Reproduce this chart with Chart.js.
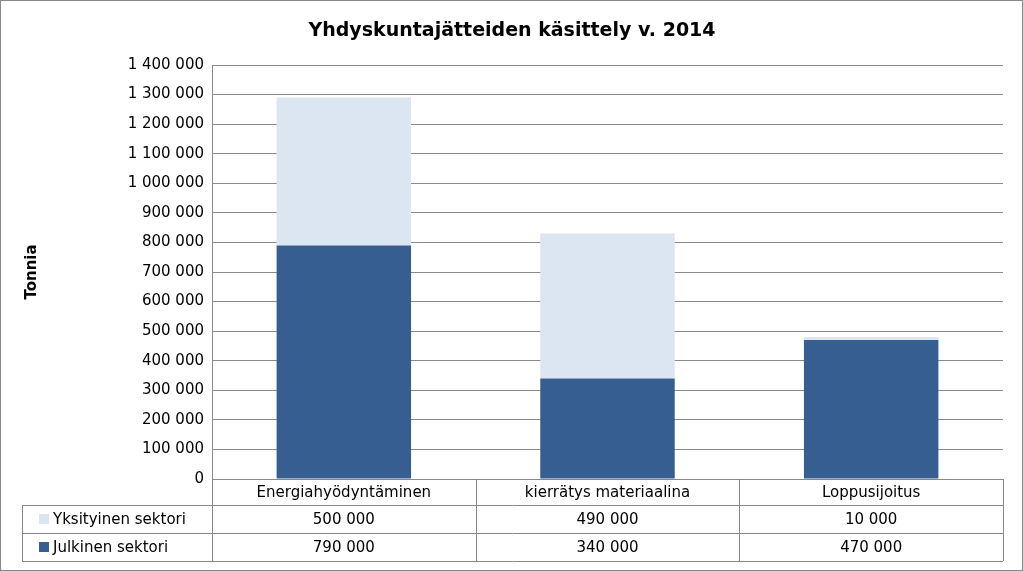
<!DOCTYPE html>
<html><head><meta charset="utf-8">
<script src="https://cdn.jsdelivr.net/npm/chart.js@4/dist/chart.umd.min.js"></script>
<style>body{margin:0;background:#fff}#w{width:1023px;height:571px;position:relative;box-sizing:border-box;border:1px solid #888}</style>
</head><body><div id="w"><canvas id="c" width="1021" height="569"></canvas></div>
<script>
const categories = ["Energiahyödyntäminen", "kierrätys materiaalina", "Loppusijoitus"];
const seriesNames = ["Julkinen sektori", "Yksityinen sektori"];
const julkinen = [790000, 340000, 470000];
const yksityinen = [500000, 490000, 10000];
const titleText = "Yhdyskuntajätteiden käsittely v. 2014";
const yTitle = "Tonnia";
const colors = ["#375E91", "#DCE6F2"];
const FONT = "DejaVu Sans, Verdana, sans-serif";
const fmt = v => Math.round(v).toString().replace(/\B(?=(\d{3})+(?!\d))/g, " ");

const tablePlugin = {
  id: 'tbl',
  afterDraw(chart) {
    const ctx = chart.ctx, a = chart.chartArea, xs = chart.scales.x;
    const step = (a.right - a.left) / categories.length;
    const r0 = a.bottom, r1 = r0 + 26, r2 = r1 + 28, r3 = r2 + 28, lx = 21;
    ctx.save();
    ctx.strokeStyle = "#888"; ctx.lineWidth = 1;
    ctx.beginPath();
    [r1, r2, r3].forEach(y => { ctx.moveTo(lx, y + .5); ctx.lineTo(a.right, y + .5); });
    for (let i = 0; i <= categories.length; i++) {
      const x = Math.round(a.left + i * step) + .5;
      ctx.moveTo(x, r0); ctx.lineTo(x, r3);
    }
    ctx.moveTo(lx + .5, r1); ctx.lineTo(lx + .5, r3);
    ctx.stroke();
    ctx.fillStyle = "#000"; ctx.font = "15px " + FONT;
    ctx.textAlign = "center"; ctx.textBaseline = "middle";
    categories.forEach((c, i) => {
      const x = xs.getPixelForValue(i);
      ctx.fillText(c, x, (r0 + r1) / 2 + 1);
      ctx.fillText(fmt(yksityinen[i]), x, (r1 + r2) / 2 + 1);
      ctx.fillText(fmt(julkinen[i]), x, (r2 + r3) / 2 + 1);
    });
    ctx.textAlign = "left";
    [[colors[1], seriesNames[1], (r1 + r2) / 2], [colors[0], seriesNames[0], (r2 + r3) / 2]].forEach(([col, n, y]) => {
      ctx.fillStyle = col; ctx.fillRect(38, y - 5, 10, 10);
      ctx.fillStyle = "#000"; ctx.fillText(n, 52, y + 1);
    });
    ctx.font = "bold 19px " + FONT; ctx.textAlign = "center";
    ctx.fillText(titleText, 511, 30);
    ctx.restore();
  }
};

new Chart(document.getElementById('c'), {
  type: 'bar',
  data: {
    labels: categories,
    datasets: [
      { label: seriesNames[0], data: julkinen, backgroundColor: colors[0], barPercentage: 0.51, categoryPercentage: 1 },
      { label: seriesNames[1], data: yksityinen, backgroundColor: colors[1], barPercentage: 0.51, categoryPercentage: 1 }
    ]
  },
  options: {
    responsive: false, animation: false,
    layout: { padding: { top: 64, bottom: 91, right: 19, left: 0 } },
    plugins: { legend: { display: false }, title: { display: false }, tooltip: { enabled: false } },
    scales: {
      x: { stacked: true, display: false },
      y: {
        stacked: true, min: 0, max: 1400000,
        afterFit(s) { s.width = 211; },
        ticks: { stepSize: 100000, callback: v => fmt(v), color: "#000", font: { family: FONT, size: 15 }, padding: 8 },
        grid: { color: "#8a8a8a", drawTicks: false },
        border: { color: "#8a8a8a" },
        title: { display: true, text: yTitle, color: "#000", font: { family: FONT, size: 15, weight: 'bold' }, padding: { top: 22 } }
      }
    }
  },
  plugins: [tablePlugin]
});
</script></body></html>
